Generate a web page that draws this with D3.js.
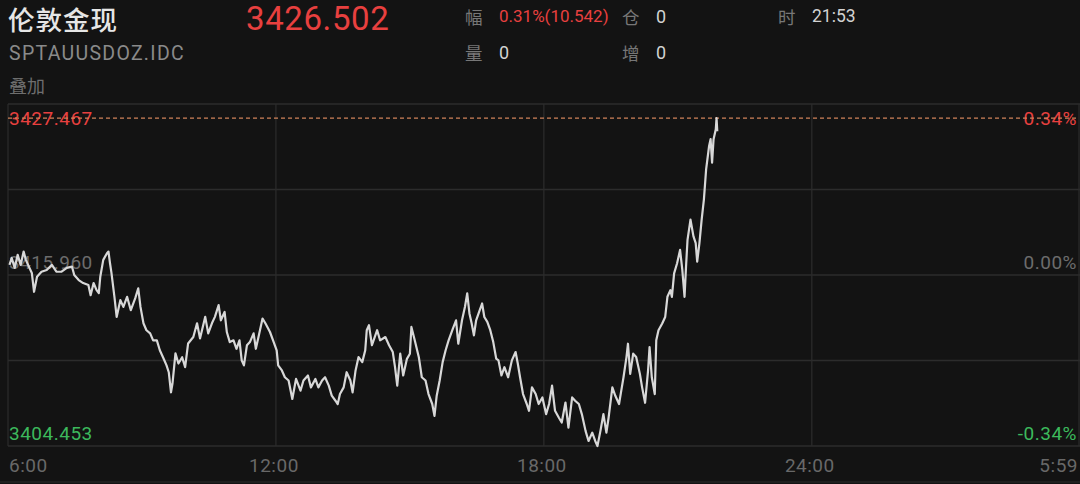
<!DOCTYPE html>
<html>
<head>
<meta charset="utf-8">
<script src="https://cdn.jsdelivr.net/npm/d3@7/dist/d3.min.js"></script>
<style>
  html, body { margin: 0; padding: 0; background: #131313; }
  svg { display: block; }
</style>
</head>
<body>
<svg id="chart" width="1080" height="484"></svg>
<script>
// ---------------- data ----------------
const prevClose = 3415.960;
const lastPrice = 3426.502;
const highPrice = 3427.467;
const lowLabel = 3404.453;
const changeText = "0.31%(10.542)";
const timeText = "21:53";

// minutes elapsed since 6:00
const minutes = [
  2,5,9,13,17,21,24,27,32,35,39,45,52,59,65,72,79,86,89,95,101,108,111,115,119,122,124,128,133,135,137,139,143,146,151,155,160,165,171,175,178,182,186,191,195,200,204,209,213,216,219,221,225,229,234,238,
  242,249,254,258,265,269,274,278,283,286,291,294,298,303,307,311,314,317,321,325,330,333,337,342,346,352,357,361,363,368,372,377,382,387,393,397,403,407,413,417,422,426,431,435,440,443,446,451,455,460,463,467,471,476,480,482,485,
  489,496,500,507,512,517,520,523,527,531,536,540,542,546,552,556,561,565,570,573,576,580,584,588,592,597,602,605,610,614,617,620,623,626,629,633,637,640,644,648,652,656,659,663,667,672,677,682,685,688,692,697,700,704,709,713,718,
  723,727,731,735,740,744,749,753,758,762,767,771,776,780,785,789,792,796,800,804,807,812,816,821,824,827,831,833,836,840,844,849,852,856,860,862,865,869,871,874,879,883,886,890,892,895,899,903,906,909,911,913,917,921,924,926,929,932,935,938,942,944,946,948,951,952,953
];
const prices = [
  3416.70,3417.21,3416.48,3417.44,3416.70,3417.68,3417.07,3416.70,3416.11,3414.73,3415.83,3416.20,3416.33,3416.70,3416.20,3416.20,3416.48,3416.57,3415.96,3415.59,3415.37,3415.22,3414.48,3415.37,3414.85,3414.63,3415.83,3417.07,3417.56,3417.68,3416.84,3416.11,3414.36,3412.88,3414.12,3413.62,3414.36,3413.38,3414.26,3414.98,3413.62,3412.42,3411.91,3411.68,3411.17,3411.17,3410.44,3409.84,3409.33,3408.83,3407.36,3408.00,3410.21,3409.47,3409.93,3409.20,
  3410.94,3411.41,3412.42,3411.31,3412.89,3411.68,3412.42,3412.89,3413.75,3412.64,3413.25,3411.78,3411.04,3411.17,3410.55,3411.17,3409.70,3409.33,3410.80,3411.04,3411.68,3410.55,3411.53,3412.77,3412.40,3411.78,3411.04,3410.44,3409.33,3408.96,3408.46,3408.22,3406.87,3408.34,3407.48,3408.22,3408.59,3407.72,3408.34,3407.72,3408.22,3408.46,3407.85,3407.11,3406.74,3406.49,3407.23,3407.72,3408.83,3408.22,3407.35,3408.96,3409.94,3409.57,3410.44,3411.91,3412.28,
  3410.81,3411.91,3411.17,3411.41,3410.81,3410.31,3409.20,3407.85,3410.19,3408.59,3409.81,3410.19,3412.15,3411.29,3409.93,3408.46,3408.22,3407.23,3406.50,3405.63,3407.11,3408.22,3409.57,3410.44,3411.17,3411.91,3412.64,3410.92,3412.64,3413.63,3414.61,3413.14,3412.40,3411.53,3412.64,3413.25,3413.87,3412.88,3412.52,3411.91,3411.04,3409.82,3409.70,3408.59,3409.20,3408.46,3409.70,3410.31,3409.45,3408.46,3407.23,3406.50,3406.00,3407.72,3407.23,3406.50,3406.98,
  3405.76,3406.50,3407.85,3406.00,3405.51,3405.14,3406.61,3404.77,3406.98,3406.74,3406.50,3405.76,3404.53,3403.79,3404.40,3403.79,3403.42,3404.53,3405.76,3404.40,3405.51,3407.72,3407.10,3406.50,3407.48,3408.46,3409.94,3410.92,3408.71,3410.19,3409.94,3408.71,3407.72,3406.59,3408.96,3410.67,3408.46,3407.23,3411.17,3411.91,3412.40,3412.88,3414.36,3414.85,3414.36,3416.08,3416.82,3417.80,3416.33,3414.36,3416.57,3418.54,3420.02,3418.79,3418.30,3416.94,3418.30,3420.02,3421.49,3423.70,3425.42,3425.92,3424.20,3425.92,3426.65,3427.467,3426.502
];
const tickMinutes = [0, 360, 720, 1080, 1439];
const tickLabels = ["6:00", "12:00", "18:00", "24:00", "5:59"];

// ---------------- drawing ----------------
const W = 1080, H = 484;
const plot = { left: 8, right: 1079, top: 104, bottom: 446 };
const RED = "#e8403f", GREEN = "#3cb95c", GRID = "#2c2c2c";
const NUM_FONT = "Roboto, 'Noto Sans', sans-serif";
const CJK_FONT = "'Noto Sans CJK SC', 'Noto Sans', sans-serif";

const svg = d3.select("#chart");
svg.append("rect").attr("width", W).attr("height", H).attr("fill", "#131313");

const data = minutes.map((m, i) => ({ m, p: prices[i] }));
const dev = d3.max(data, d => Math.abs(d.p - prevClose));

const x = d3.scaleLinear().domain([0, 1439]).range([plot.left, plot.right]);
const y = d3.scaleLinear().domain([prevClose - dev, prevClose + dev]).range([plot.bottom, plot.top]);

// grid
const gy = d3.range(5).map(i => plot.top + (plot.bottom - plot.top) * i / 4);
svg.append("g").selectAll("line").data(gy).join("line")
  .attr("x1", plot.left).attr("x2", W).attr("y1", d => d).attr("y2", d => d)
  .attr("stroke", GRID).attr("stroke-width", 1.5);
svg.append("g").selectAll("line").data(tickMinutes).join("line")
  .attr("x1", d => x(d)).attr("x2", d => x(d))
  .attr("y1", plot.top).attr("y2", plot.bottom)
  .attr("stroke", GRID).attr("stroke-width", 1.2);
// bottom separator
svg.append("line").attr("x1", 0).attr("x2", W).attr("y1", 482).attr("y2", 482)
  .attr("stroke", "#242424").attr("stroke-width", 1.5);

// x axis labels
svg.append("g").selectAll("text").data(tickMinutes).join("text")
  .attr("x", d => x(d))
  .attr("y", 465)
  .attr("dominant-baseline", "central")
  .attr("text-anchor", (d, i) => i === 0 ? "start" : (i === tickMinutes.length - 1 ? "end" : "middle"))
  .attr("dx", (d, i) => i === 0 ? 1 : (i === tickMinutes.length - 1 ? -1 : -2))
  .attr("font-family", NUM_FONT).attr("font-size", 19).attr("letter-spacing", 0.5)
  .attr("fill", "#686868")
  .text((d, i) => tickLabels[i]);

// y labels
const fmt3 = d3.format(".3f");
const pct = v => d3.format(".2f")((v - prevClose) / prevClose * 100) + "%";
const yHigh = y(highPrice);
const leftLabels = [
  { t: fmt3(highPrice), y: yHigh, c: RED },
  { t: fmt3(prevClose), y: y(prevClose) - 13, c: "#6c6c6c" },
  { t: fmt3(lowLabel), y: plot.bottom - 13, c: GREEN }
];
const rightLabels = [
  { t: pct(highPrice), y: yHigh, c: RED },
  { t: "0.00%", y: y(prevClose) - 13, c: "#6c6c6c" },
  { t: "-" + pct(highPrice), y: plot.bottom - 13, c: GREEN }
];
svg.append("g").selectAll("text").data(leftLabels).join("text")
  .attr("x", 9).attr("y", d => d.y).attr("dominant-baseline", "central")
  .attr("font-family", NUM_FONT).attr("font-size", 19).attr("letter-spacing", 0.5)
  .attr("fill", d => d.c).text(d => d.t);
svg.append("g").selectAll("text").data(rightLabels).join("text")
  .attr("x", 1077).attr("y", d => d.y).attr("dominant-baseline", "central")
  .attr("text-anchor", "end")
  .attr("font-family", NUM_FONT).attr("font-size", 19).attr("letter-spacing", 0.5)
  .attr("fill", d => d.c).text(d => d.t);

// high dashed line
svg.append("line")
  .attr("x1", plot.left).attr("x2", plot.right)
  .attr("y1", yHigh).attr("y2", yHigh)
  .attr("stroke", "#d0825a").attr("stroke-width", 1.2)
  .attr("stroke-dasharray", "4,3");

// price line
const line = d3.line().x(d => x(d.m)).y(d => y(d.p));
svg.append("path").datum(data)
  .attr("d", line)
  .attr("fill", "none")
  .attr("stroke", "#d8d8d8")
  .attr("stroke-width", 2.2)
  .attr("stroke-linejoin", "round");

// ---------------- header ----------------
const hdr = svg.append("g");
function txt(s, xx, yy, size, color, family, extra) {
  const t = hdr.append("text").attr("x", xx).attr("y", yy)
    .attr("dominant-baseline", "central")
    .attr("font-family", family).attr("font-size", size).attr("fill", color).text(s);
  if (extra) extra(t);
  return t;
}
txt("伦敦金现", 8, 18, 26.5, "#e6e6e6", CJK_FONT, t => t.attr("font-weight", 500).attr("letter-spacing", 1));
txt(fmt3(lastPrice), 246, 18, 33, RED, NUM_FONT, t => t.attr("letter-spacing", 0.6));
txt("SPTAUUSDOZ.IDC", 9, 53, 19.5, "#8a8a8a", NUM_FONT, t => t.attr("letter-spacing", 1.3));
txt("叠加", 9, 85, 18, "#6e6e6e", CJK_FONT);

txt("幅", 465, 16, 17.5, "#777777", CJK_FONT);
txt(changeText, 499, 16, 17, RED, NUM_FONT);
txt("仓", 622, 16, 17.5, "#777777", CJK_FONT);
txt("0", 656, 16, 18, "#d2d2d2", NUM_FONT);
txt("时", 778, 16, 17.5, "#777777", CJK_FONT);
txt(timeText, 812, 16, 17.5, "#d2d2d2", NUM_FONT);
txt("量", 465, 52, 17.5, "#777777", CJK_FONT);
txt("0", 499, 52, 18, "#d2d2d2", NUM_FONT);
txt("增", 622, 52, 17.5, "#777777", CJK_FONT);
txt("0", 656, 52, 18, "#d2d2d2", NUM_FONT);
</script>
</body>
</html>
